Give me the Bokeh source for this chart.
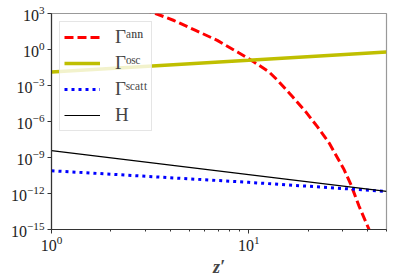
import numpy as np
from bokeh.plotting import figure
from bokeh.models import FixedTicker, LogTickFormatter, Legend, LegendItem, Range1d
from bokeh.embed import file_html
from bokeh.resources import INLINE

# ---- data ----
z_ann = [2.9, 3.37, 4.18, 5.38, 6.93, 8.77, 10.64, 12.68, 14.0, 16.7, 19.45,
         22.3, 25.6, 30.5, 33.0, 36.3, 40.8, 43.0]
gamma_ann = [2.2e3, 1.0e3, 2.6e2, 3.9e1, 5.75, 6.2e-1, 9.1e-2, 1.35e-2, 2.75e-3,
             1.15e-4, 6.6e-6, 3.7e-7, 1.6e-8, 9.5e-11, 5.5e-12, 8.7e-14, 1.0e-15, 1.0e-16]

z_osc = [1, 10, 50]
gamma_osc = [1.35e-2, 1.26e-1, 6.1e-1]

z_scatt = [1, 10, 50]
gamma_scatt = [7.9e-11, 8.5e-12, 1.5e-12]

z_H = [1, 10, 50]
hubble = [3.8e-9, 3.8e-11, 1.5e-12]

x_major = [1, 10]
x_minor = [2, 3, 4, 5, 6, 7, 8, 9, 20, 30, 40, 50]
y_major = [1e3, 1e0, 1e-3, 1e-6, 1e-9, 1e-12, 1e-15]

labels = ["Γᵃⁿⁿ", "Γᵒˢᶜ", "Γˢᶜᵃᵗᵗ", "H"]

FONT = "Liberation Serif"

p = figure(width=397, height=279, x_axis_type="log", y_axis_type="log",
           x_range=Range1d(1, 50), y_range=Range1d(1e-15, 1e3),
           output_backend="svg", toolbar_location=None,
           min_border_left=51, min_border_right=11, min_border_top=13,
           min_border_bottom=49)

r_ann = p.line(z_ann, gamma_ann, line_color="#ff0000", line_width=3,
               line_dash="9 4")
r_osc = p.line(z_osc, gamma_osc, line_color="#bfbf00", line_width=3.5)
r_sc = p.line(z_scatt, gamma_scatt, line_color="#0000ff", line_width=3,
              line_dash="3 4")
r_h = p.line(z_H, hubble, line_color="black", line_width=1.2)

p.grid.visible = False
p.outline_line_color = "#999999"
p.outline_line_width = 1.2

p.xaxis.ticker = FixedTicker(ticks=x_major, minor_ticks=x_minor)
p.yaxis.ticker = FixedTicker(ticks=y_major, minor_ticks=[])
for ax in (p.xaxis[0], p.yaxis[0]):
    ax.formatter = LogTickFormatter()
    ax.major_label_text_font = FONT
    ax.major_label_text_font_size = "16px"
    ax.major_label_text_color = "#222222"
    ax.axis_line_color = "#333333"
    ax.axis_line_width = 1.2
    ax.major_tick_in = 0
    ax.major_tick_out = 4
    ax.minor_tick_in = 0
    ax.minor_tick_out = 2
    ax.major_tick_line_color = "#333333"
    ax.minor_tick_line_color = "#333333"
    ax.major_label_standoff = 3

p.xaxis.major_label_standoff = 2
p.xaxis.axis_label = "z′"
p.xaxis.axis_label_text_font = FONT
p.xaxis.axis_label_text_font_size = "18px"
p.xaxis.axis_label_text_font_style = "bold italic"
p.xaxis.axis_label_standoff = 3

legend = Legend(items=[LegendItem(label=labels[0], renderers=[r_ann]),
                       LegendItem(label=labels[1], renderers=[r_osc]),
                       LegendItem(label=labels[2], renderers=[r_sc]),
                       LegendItem(label=labels[3], renderers=[r_h])],
                location="top_left")
legend.margin = 8
legend.padding = 4
legend.spacing = 4
legend.glyph_width = 36
legend.glyph_height = 20
legend.label_height = 20
legend.label_standoff = 15
legend.label_text_font = FONT
legend.label_text_font_size = "19px"
legend.border_line_color = "#cccccc"
legend.border_line_width = 1
legend.background_fill_alpha = 0.8
p.add_layout(legend)

open("out.html", "w").write(file_html(p, INLINE))
